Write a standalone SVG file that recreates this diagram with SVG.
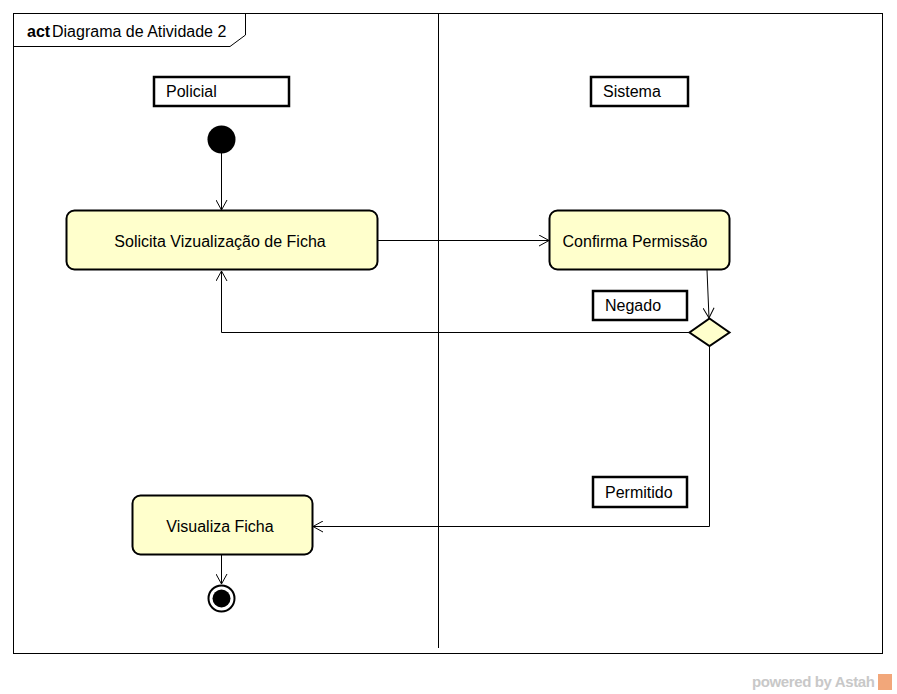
<svg xmlns="http://www.w3.org/2000/svg" width="897" height="694" viewBox="0 0 897 694">
<style>
text{font-family:"Liberation Sans",Arial,sans-serif;font-size:16px;fill:#000}
.act{fill:#ffffcc;stroke:#000;stroke-width:2}
.lbl{fill:#fff;stroke:#000;stroke-width:2.5}
.c{fill:none;stroke:#000;stroke-width:1}
</style>
<defs>
<marker id="ah" markerWidth="12" markerHeight="12" refX="11" refY="6" orient="auto" markerUnits="userSpaceOnUse">
<path d="M1,0.5 L11,6 L1,11.5" fill="none" stroke="#000" stroke-width="1"/>
</marker>
</defs>
<rect x="0" y="0" width="897" height="694" fill="#fff"/>
<g id="frame">
<rect x="13.5" y="13.5" width="869" height="640" fill="none" stroke="#000" stroke-width="1"/>
<path d="M13.5,46.5 L230,46.5 L245.5,35 L245.5,13.5" fill="none" stroke="#000" stroke-width="1"/>
<text x="27" y="37"><tspan font-weight="bold">act</tspan><tspan x="52">Diagrama de Atividade 2</tspan></text>
<line x1="438.5" y1="13.5" x2="438.5" y2="648" stroke="#000" stroke-width="1"/>
</g>
<g id="lane-policial">
<rect class="lbl" x="154" y="77" width="135" height="29"/>
<text x="166" y="97">Policial</text>
</g>
<g id="lane-sistema">
<rect class="lbl" x="591" y="77" width="97" height="29"/>
<text x="603" y="97">Sistema</text>
</g>
<g id="connectors">
<line class="c" x1="221.5" y1="153" x2="221.5" y2="210" marker-end="url(#ah)"/>
<line class="c" x1="377" y1="240.5" x2="549" y2="240.5" marker-end="url(#ah)"/>
<line class="c" x1="707" y1="270" x2="709" y2="318" marker-end="url(#ah)"/>
<polyline class="c" points="689,332.5 221.5,332.5 221.5,271" marker-end="url(#ah)"/>
<polyline class="c" points="709.5,346 709.5,526.5 313,526.5" marker-end="url(#ah)"/>
<line class="c" x1="221.5" y1="555" x2="221.5" y2="584" marker-end="url(#ah)"/>
</g>
<g id="initial">
<circle cx="221.5" cy="139.5" r="14" fill="#000"/>
</g>
<g id="solicita">
<rect class="act" x="66.5" y="210.5" width="311" height="59" rx="8"/>
<text x="220" y="247" text-anchor="middle">Solicita Vizualização de Ficha</text>
</g>
<g id="confirma">
<rect class="act" x="549.5" y="210.5" width="180" height="59" rx="8"/>
<text x="635" y="247" text-anchor="middle">Confirma Permissão</text>
</g>
<g id="decision">
<polygon points="709.5,318.5 729.5,332.5 709.5,346 689.5,332.5" fill="#ffffcc" stroke="#000" stroke-width="2"/>
</g>
<g id="negado">
<rect class="lbl" x="593" y="291" width="94" height="29"/>
<text x="605" y="311">Negado</text>
</g>
<g id="permitido">
<rect class="lbl" x="593" y="477" width="94" height="30"/>
<text x="605" y="498">Permitido</text>
</g>
<g id="visualiza">
<rect class="act" x="132.5" y="495.5" width="180" height="59" rx="8"/>
<text x="220" y="532" text-anchor="middle">Visualiza Ficha</text>
</g>
<g id="final">
<circle cx="221.5" cy="598.5" r="13" fill="#fff" stroke="#000" stroke-width="2"/>
<circle cx="221.5" cy="598.5" r="9" fill="#000"/>
</g>
<g id="watermark">
<text x="752" y="687" textLength="123" style="font-size:15px;font-weight:bold;fill:#c8c8c8">powered by Astah</text>
<rect x="878" y="674" width="14" height="16" fill="#f2a77a"/>
</g>
</svg>
